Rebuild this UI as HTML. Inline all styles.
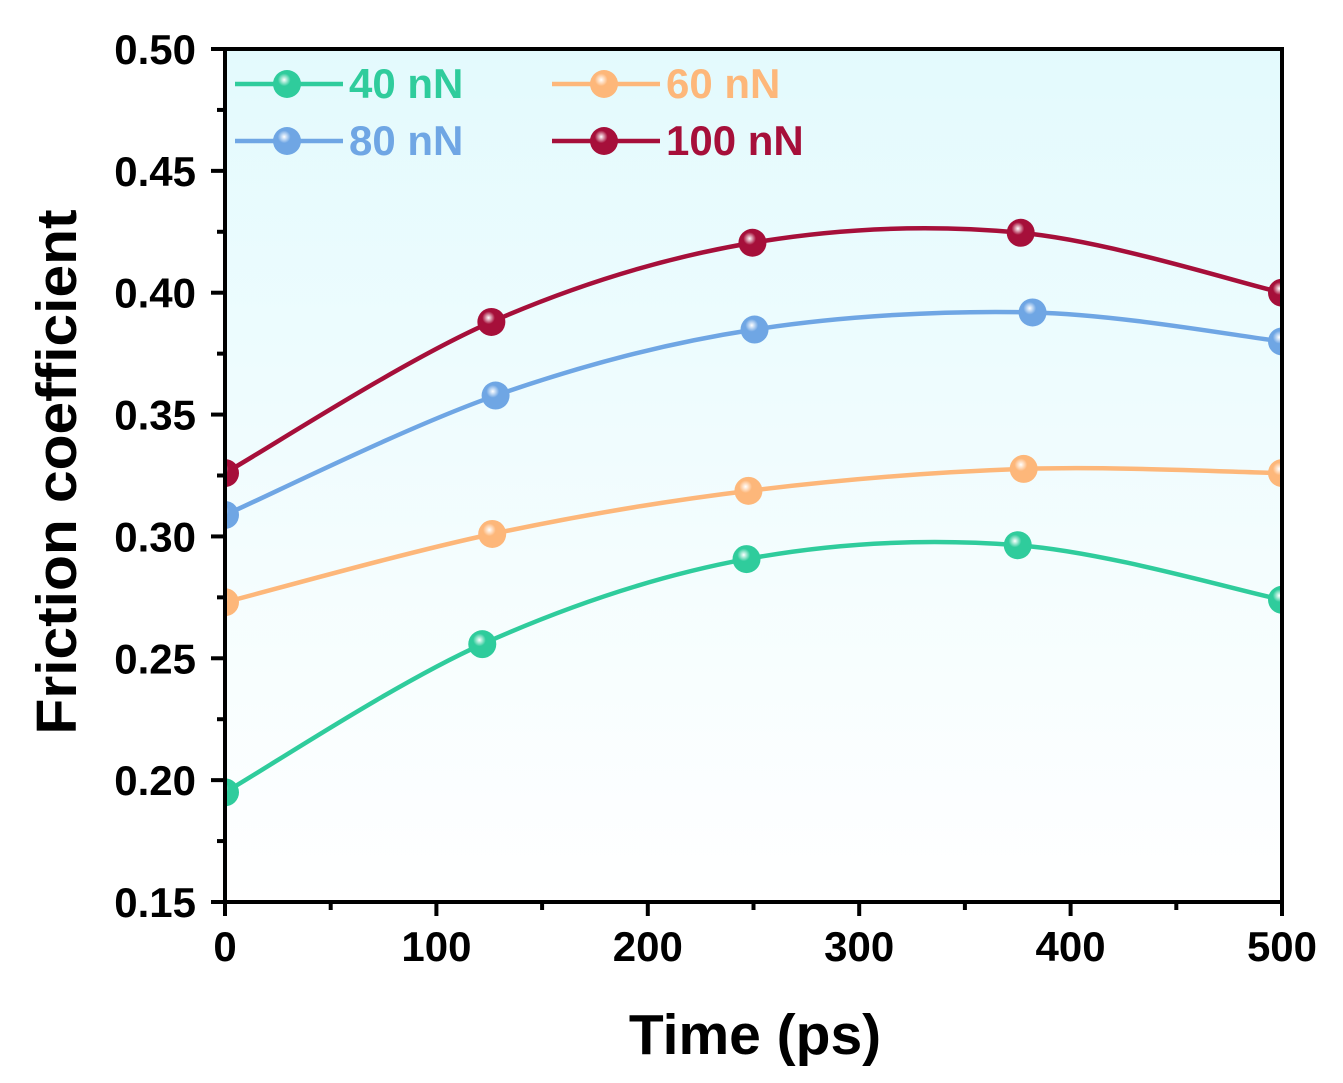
<!DOCTYPE html>
<html><head><meta charset="utf-8"><style>
html,body{margin:0;padding:0;background:#fff;}
svg{display:block;font-family:"Liberation Sans",Arial,sans-serif;}
</style></head><body>
<svg id="chart" width="1343" height="1083" viewBox="0 0 1343 1083">
<defs>
<linearGradient id="bg" x1="0" y1="0" x2="0" y2="1">
<stop offset="0" stop-color="#e3fafd"/><stop offset="1" stop-color="#ffffff"/>
</linearGradient>
<clipPath id="clip"><rect x="225" y="49" width="1057" height="853"/></clipPath>
</defs>
<rect x="225" y="49" width="1057" height="853" fill="url(#bg)"/>
<g id="series" clip-path="url(#clip)"></g>
<g id="axes"></g>
<g id="legend"></g>
<text x="755" y="1054" font-size="57" font-weight="bold" text-anchor="middle">Time (ps)</text>
<text transform="translate(76,472) rotate(-90)" font-size="57" font-weight="bold" text-anchor="middle" textLength="525" lengthAdjust="spacingAndGlyphs">Friction coefficient</text>
</svg>
<script>
const xTicks=[0,100,200,300,400,500];
const yTicks=[0.15,0.20,0.25,0.30,0.35,0.40,0.45,0.50];
const seriesNames=["40 nN","60 nN","80 nN","100 nN"];
const xs40=[0,121.7,246.7,375,500];
const ys40=[0.195,0.2558,0.2907,0.2964,0.274];
const xs60=[0,126.4,247.6,377.8,500];
const ys60=[0.273,0.301,0.3187,0.3277,0.326];
const xs80=[0,128,250.5,382,500];
const ys80=[0.3088,0.3578,0.3849,0.3919,0.380];
const xs100=[0,126,249.5,376.4,500];
const ys100=[0.326,0.388,0.4205,0.4246,0.400];
const colors=["#2fcc9c","#fdb77a","#6fa6e4","#a60f3a"];

const NS="http://www.w3.org/2000/svg";
const X0=225,X1=1282,Y0=902,Y1=49;
const sx=v=>X0+(v-0)/(500-0)*(X1-X0);
const sy=v=>Y0-(v-0.15)/(0.50-0.15)*(Y0-Y1);
function mk(tag,attrs,parent){const e=document.createElementNS(NS,tag);for(const k in attrs)e.setAttribute(k,attrs[k]);parent.appendChild(e);return e;}
const defs=document.querySelector('defs');
colors.forEach((c,i)=>{
 const g=mk('radialGradient',{id:'m'+i,cx:'0.4',cy:'0.35',r:'0.65'},defs);
 mk('stop',{offset:'0','stop-color':'#ffffff'},g);
 mk('stop',{offset:'0.35','stop-color':c},g);
 mk('stop',{offset:'1','stop-color':c},g);
});
function spline(px,py){
 let d=`M${px[0]},${py[0]}`;
 for(let i=0;i<px.length-1;i++){
  const p0=i>0?i-1:i,p3=i+2<px.length?i+2:i+1;
  const c1x=px[i]+(px[i+1]-px[p0])/6,c1y=py[i]+(py[i+1]-py[p0])/6;
  const c2x=px[i+1]-(px[p3]-px[i])/6,c2y=py[i+1]-(py[p3]-py[i])/6;
  d+=` C${c1x},${c1y} ${c2x},${c2y} ${px[i+1]},${py[i+1]}`;
 }
 return d;
}
const sg=document.getElementById('series');
const allX=[xs40,xs60,xs80,xs100],allY=[ys40,ys60,ys80,ys100];
allX.forEach((xs,i)=>{
 const px=xs.map(sx),py=allY[i].map(sy);
 const p=mk('path',{d:spline(px,py),fill:'none',stroke:colors[i],'stroke-width':4.5},sg);
 
 
 px.forEach((x,j)=>{
  const m=mk('circle',{cx:x,cy:py[j],r:14,fill:`url(#m${i})`},sg);
  
  
 });
});
const ag=document.getElementById('axes');
const fr=mk('rect',{x:X0,y:Y1,width:X1-X0,height:Y0-Y1,fill:'none',stroke:'#000','stroke-width':4},ag);


xTicks.forEach(v=>{
 mk('line',{x1:sx(v),x2:sx(v),y1:Y0,y2:Y0+14,stroke:'#000','stroke-width':4},ag);
 const t=mk('text',{x:sx(v),y:961,'font-size':42,'font-weight':'bold','text-anchor':'middle'},ag);
 t.textContent=v;
 
 
});
for(let v=50;v<500;v+=100) mk('line',{x1:sx(v),x2:sx(v),y1:Y0,y2:Y0+8,stroke:'#000','stroke-width':4},ag);
yTicks.forEach(v=>{
 mk('line',{x1:X0-14,x2:X0,y1:sy(v),y2:sy(v),stroke:'#000','stroke-width':4},ag);
 const t=mk('text',{x:196,y:sy(v)+15,'font-size':42,'font-weight':'bold','text-anchor':'end'},ag);
 t.textContent=v.toFixed(2);
 
 
});
for(let v=0.175;v<0.5;v+=0.05) mk('line',{x1:X0-8,x2:X0,y1:sy(v),y2:sy(v),stroke:'#000','stroke-width':4},ag);
const lg=document.getElementById('legend');
const lpos=[[235,84],[552,84],[235,141],[552,141]];
seriesNames.forEach((n,i)=>{
 const [x,y]=lpos[i];
 const g=mk('g',{},lg);
 
 
 mk('line',{x1:x,x2:x+108,y1:y,y2:y,stroke:colors[i],'stroke-width':4.5},g);
 mk('circle',{cx:x+52,cy:y,r:14,fill:`url(#m${i})`},g);
 const t=mk('text',{x:x+114,y:y+14,'font-size':42,'font-weight':'bold',fill:colors[i]},g);
 t.textContent=n;
});
</script>
</body></html>
